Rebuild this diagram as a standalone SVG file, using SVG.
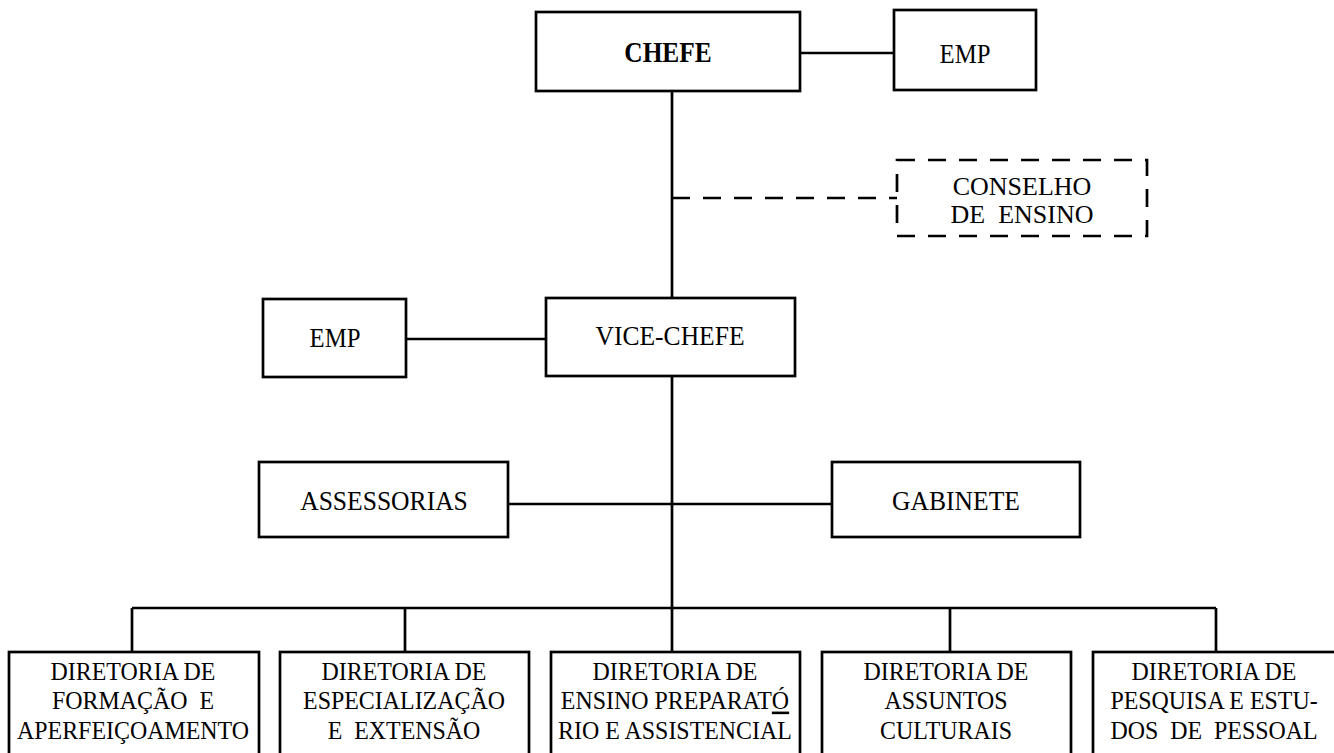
<svg xmlns="http://www.w3.org/2000/svg" width="1334" height="753" viewBox="0 0 1334 753">
<style>
.box{fill:#fff;stroke:#000;stroke-width:2.7}
.dbox{fill:#fff;stroke:#000;stroke-width:2.7;stroke-dasharray:18 13}
.ln{fill:none;stroke:#000;stroke-width:2.7}
.dl{fill:none;stroke:#000;stroke-width:2.7;stroke-dasharray:18 13}
text{font-family:"Liberation Serif","Times New Roman",serif;fill:#000;text-anchor:middle;white-space:pre}
.t{font-size:27.5px}
.c{font-size:25.5px}
.b{font-size:28.5px;font-weight:bold}
.s{font-size:26px}
</style>
<rect width="1334" height="753" fill="#fff"/>
<g id="connectors">
<path class="ln" d="M800 53H894"/>
<path class="ln" d="M672 91V298"/>
<path class="dl" d="M672 198H897"/>
<path class="ln" d="M406 339H546"/>
<path class="ln" d="M672 376V608"/>
<path class="ln" d="M508 504H832"/>
<path class="ln" d="M132 608H1216"/>
<path class="ln" d="M132 608V652M405 608V652M672 608V652M950 608V652M1216 608V652"/>
</g>
<g id="chefe"><rect class="box" x="536" y="12" width="264" height="79"/><g transform="translate(668 0) scale(0.89 1)"><text class="b" x="0" y="62">CHEFE</text></g></g>
<g id="emp-top"><rect class="box" x="894" y="10" width="142" height="80"/><g transform="translate(965 0) scale(0.9 1)"><text class="t" x="0" y="63">EMP</text></g></g>
<g id="conselho"><rect class="dbox" x="897" y="160" width="250" height="76"/><g transform="translate(1022 0) scale(1.02 1)"><text class="c" x="0" y="195">CONSELHO</text><text class="c" x="0" y="223.5">DE  ENSINO</text></g></g>
<g id="emp-left"><rect class="box" x="263" y="299" width="143" height="78"/><g transform="translate(335 0) scale(0.9 1)"><text class="t" x="0" y="347">EMP</text></g></g>
<g id="vice-chefe"><rect class="box" x="546" y="298" width="249" height="78"/><g transform="translate(670 0) scale(0.93 1)"><text class="t" x="0" y="345">VICE-CHEFE</text></g></g>
<g id="assessorias"><rect class="box" x="259" y="462" width="249" height="75"/><g transform="translate(384 0) scale(0.93 1)"><text class="t" x="0" y="510">ASSESSORIAS</text></g></g>
<g id="gabinete"><rect class="box" x="832" y="462" width="248" height="75"/><g transform="translate(956 0) scale(0.93 1)"><text class="t" x="0" y="510">GABINETE</text></g></g>
<g id="dir1"><rect class="box" x="9" y="652" width="250" height="130"/><g transform="translate(133 0) scale(0.92 1)"><text class="s" x="0" y="680">DIRETORIA DE</text><text class="s" x="0" y="709.5">FORMAÇÃO  E</text><text class="s" x="0" y="739">APERFEIÇOAMENTO</text></g></g>
<g id="dir2"><rect class="box" x="280" y="652" width="249" height="130"/><g transform="translate(404 0) scale(0.92 1)"><text class="s" x="0" y="680">DIRETORIA DE</text><text class="s" x="0" y="709.5">ESPECIALIZAÇÃO</text><text class="s" x="0" y="739">E  EXTENSÃO</text></g></g>
<g id="dir3"><rect class="box" x="551" y="652" width="249" height="130"/><g transform="translate(675 0) scale(0.92 1)"><text class="s" x="0" y="680">DIRETORIA DE</text><text class="s" x="0" y="709.5">ENSINO PREPARAT<tspan text-decoration="underline">Ó</tspan></text><text class="s" x="0" y="739">RIO E ASSISTENCIAL</text></g></g>
<g id="dir4"><rect class="box" x="822" y="652" width="249" height="130"/><g transform="translate(946 0) scale(0.92 1)"><text class="s" x="0" y="680">DIRETORIA DE</text><text class="s" x="0" y="709.5">ASSUNTOS</text><text class="s" x="0" y="739">CULTURAIS</text></g></g>
<g id="dir5"><rect class="box" x="1093" y="652" width="250" height="130"/><g transform="translate(1214 0) scale(0.92 1)"><text class="s" x="0" y="680">DIRETORIA DE</text><text class="s" x="0" y="709.5">PESQUISA E ESTU-</text><text class="s" x="0" y="739">DOS  DE  PESSOAL</text></g></g>
</svg>
